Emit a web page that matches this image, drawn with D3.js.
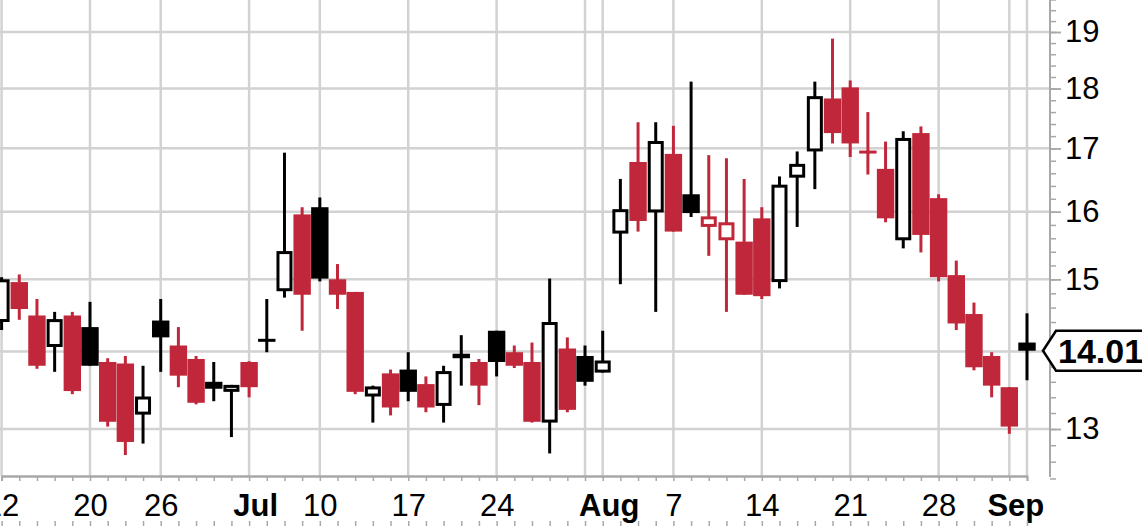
<!DOCTYPE html>
<html><head><meta charset="utf-8">
<script src="https://cdn.jsdelivr.net/npm/d3@7"></script>
<style>body{margin:0;background:#fff;overflow:hidden} svg{display:block}</style>
</head><body>
<svg id="c" width="1142" height="526"></svg>
<script>
// ---- data (daily OHLC, Jun 12 – Sep 5 2023) ----
const dates = ["2023-06-12","2023-06-13","2023-06-14","2023-06-15","2023-06-16","2023-06-20","2023-06-21","2023-06-22","2023-06-23","2023-06-26","2023-06-27","2023-06-28","2023-06-29","2023-06-30","2023-07-03","2023-07-05","2023-07-06","2023-07-07","2023-07-10","2023-07-11","2023-07-12","2023-07-13","2023-07-14","2023-07-17","2023-07-18","2023-07-19","2023-07-20","2023-07-21","2023-07-24","2023-07-25","2023-07-26","2023-07-27","2023-07-28","2023-07-31","2023-08-01","2023-08-02","2023-08-03","2023-08-04","2023-08-07","2023-08-08","2023-08-09","2023-08-10","2023-08-11","2023-08-14","2023-08-15","2023-08-16","2023-08-17","2023-08-18","2023-08-21","2023-08-22","2023-08-23","2023-08-24","2023-08-25","2023-08-28","2023-08-29","2023-08-30","2023-08-31","2023-09-01","2023-09-05"];
const open  = [14.40,14.96,14.49,14.06,14.49,14.33,13.86,13.84,13.18,14.42,14.08,13.90,13.60,13.47,13.86,14.15,14.83,15.96,16.07,15.00,14.82,13.41,13.71,13.76,13.57,13.29,13.97,13.86,14.28,13.99,13.86,13.08,14.04,13.94,13.72,15.67,16.78,15.99,16.91,16.27,15.77,15.57,15.55,15.90,14.96,16.53,16.95,17.83,18.02,16.94,16.67,15.57,17.25,16.21,15.06,14.51,13.94,13.53,14.12];
const high  = [15.03,15.07,14.72,14.54,14.54,14.68,13.91,13.94,13.81,14.72,14.33,13.94,13.86,13.56,13.87,14.72,16.93,16.07,16.22,15.22,14.82,13.55,13.76,13.99,13.67,13.81,14.22,13.90,14.28,14.08,14.12,15.01,14.19,14.08,14.28,16.51,17.43,17.43,17.37,18.12,16.89,16.84,16.51,16.07,16.55,16.95,18.12,18.88,18.14,17.60,17.11,17.28,17.36,16.27,15.27,14.67,13.99,13.53,14.52];
const low   = [14.29,14.43,13.77,13.73,13.44,13.81,13.03,12.68,12.82,13.73,13.53,13.31,13.35,12.90,13.40,13.99,14.74,14.28,14.97,14.58,13.44,13.08,13.17,13.35,13.21,13.08,13.55,13.30,13.67,13.78,13.08,12.70,13.21,13.55,13.72,14.93,15.70,14.54,15.70,15.92,15.34,14.54,14.78,14.72,14.87,15.77,16.35,17.08,16.86,16.58,15.84,15.45,15.39,14.97,14.29,13.75,13.40,12.94,13.62];
const close = [15.00,14.58,13.81,14.44,13.48,13.81,13.09,12.84,13.41,14.19,13.68,13.33,13.51,13.56,13.53,14.15,15.41,14.78,15.01,14.78,13.47,13.54,13.27,13.47,13.27,13.74,13.91,13.55,13.86,13.81,13.09,14.40,13.24,13.60,13.88,16.04,15.86,17.12,15.70,15.98,15.93,15.84,14.78,14.76,16.42,16.75,17.87,17.25,17.08,16.94,15.90,17.17,15.65,15.03,14.38,13.79,13.55,13.03,14.01];

const yTicks = [13,14,15,16,17,18,19];
const yLabelTicks = [13,15,16,17,18,19];
const gridDates = ["2023-06-12","2023-06-20","2023-06-26","2023-07-03","2023-07-10","2023-07-17","2023-07-24","2023-07-31","2023-08-01","2023-08-07","2023-08-14","2023-08-21","2023-08-28","2023-09-01","2023-09-05"];
const labelDates = ["2023-06-12","2023-06-20","2023-06-26","2023-07-03","2023-07-10","2023-07-17","2023-07-24","2023-08-01","2023-08-07","2023-08-14","2023-08-21","2023-08-28","2023-09-01"];
const labelTexts = ["12","20","26","Jul","10","17","24","Aug","7","14","21","28","Sep"];
const monthLabels = ["Jul","Aug","Sep"];
const lastLabel = "14.01";

// ---- layout ----
const svg = d3.select("#c");
const plotRight = 1050, plotBottom = 476;
const RED = "#c1273a", BLACK = "#000";
const FONT = "'Liberation Sans', Arial, sans-serif";

const x = d3.scalePoint().domain(dates).range([1.6, 1027]);
const y = d3.scaleLog().domain([13, 19]).range([429, 32]);

// grid
const grid = svg.append("g");
grid.selectAll("line.h").data(yTicks).join("line")
  .attr("x1", 0).attr("x2", plotRight)
  .attr("y1", d => y(d)).attr("y2", d => y(d))
  .attr("stroke", "#d2d2d2").attr("stroke-width", 2.5);
grid.selectAll("line.v").data(gridDates).join("line")
  .attr("x1", d => x(d)).attr("x2", d => x(d))
  .attr("y1", 0).attr("y2", plotBottom)
  .attr("stroke", "#d2d2d2").attr("stroke-width", 2.5);

// x axes
const minorX = svg.append("g").attr("transform", `translate(0,${plotBottom})`)
  .call(d3.axisBottom(x).tickValues(dates).tickSize(5).tickFormat(""));
const lblX = svg.append("g").attr("transform", `translate(0,${plotBottom})`)
  .call(d3.axisBottom(x).tickValues(labelDates).tickSize(0)
    .tickFormat((d) => labelTexts[labelDates.indexOf(d)]));
lblX.selectAll("text").attr("y", 40).attr("dy", 0)
  .attr("font-family", FONT).attr("font-size", 31).attr("fill", "#000")
  .attr("font-weight", d => monthLabels.includes(labelTexts[labelDates.indexOf(d)]) ? "bold" : "normal")
  .attr("dx", d => monthLabels.includes(labelTexts[labelDates.indexOf(d)]) ? 6 : 0);
const botX = svg.append("g").attr("transform", `translate(0,526)`)
  .call(d3.axisTop(x).tickValues(dates).tickSize(5).tickFormat(""));
[minorX, lblX, botX].forEach(g => {
  g.select(".domain").attr("stroke", "#a8a8a8").attr("stroke-width", 2);
  g.selectAll(".tick line").attr("stroke", "#a8a8a8").attr("stroke-width", 1.5);
});
botX.select(".domain").remove();

// y axes
const minorVals = d3.range(12.4, 19.7, 0.2);
const minorY = svg.append("g").attr("transform", `translate(${plotRight},0)`)
  .call(d3.axisRight(y).tickValues(minorVals).tickSize(6).tickFormat(""));
const majorY = svg.append("g").attr("transform", `translate(${plotRight},0)`)
  .call(d3.axisRight(y).tickValues(yTicks).tickSize(11).tickFormat(""));
const labelY = svg.append("g").attr("transform", `translate(${plotRight},0)`)
  .call(d3.axisRight(y).tickValues(yLabelTicks).tickSize(11).tickPadding(4).tickFormat(d3.format("d")));
labelY.selectAll("text").attr("font-family", FONT).attr("font-size", 31).attr("fill", "#000");
[minorY, majorY, labelY].forEach(g => {
  g.select(".domain").attr("d", `M0,0V${plotBottom + 1}`).attr("stroke", "#a8a8a8").attr("stroke-width", 2);
  g.selectAll(".tick line").attr("stroke", "#a8a8a8").attr("stroke-width", 1.5);
});

// candles
const data = dates.map((d, i) => ({d, o: open[i], h: high[i], l: low[i], c: close[i],
  pc: i > 0 ? close[i - 1] : open[i]}));
const cg = svg.append("g");
const candle = cg.selectAll("g.k").data(data).join("g");
candle.each(function(k) {
  const g = d3.select(this);
  const cx = x(k.d);
  const col = k.c >= k.pc ? BLACK : RED;
  g.append("line").attr("x1", cx).attr("x2", cx)
    .attr("y1", y(k.h)).attr("y2", y(k.l))
    .attr("stroke", col).attr("stroke-width", 3);
  if (k.c > k.o) {
    const top = y(k.c), bot = y(k.o);
    g.append("rect").attr("x", cx - 8 + 1.5).attr("width", 13)
      .attr("y", top + 1.5).attr("height", Math.max(1, bot - top - 3))
      .attr("fill", "#fff").attr("stroke", col).attr("stroke-width", 3);
  } else {
    const top = y(k.o), bot = y(k.c);
    const hgt = Math.max(3, bot - top);
    const y0 = bot - top < 3 ? (top + bot) / 2 - 1.5 : top;
    g.append("rect").attr("x", cx - 8.7).attr("width", 17.4)
      .attr("y", y0).attr("height", hgt).attr("fill", col);
  }
});

// last price tag
const yc = y(close[close.length - 1]);
svg.append("path")
  .attr("d", `M1043,${yc} L1056,${yc - 20} L1150,${yc - 20} L1150,${yc + 20} L1056,${yc + 20} Z`)
  .attr("fill", "#fff").attr("stroke", "#000").attr("stroke-width", 2.5);
svg.append("text").attr("x", 1058).attr("y", yc).attr("dy", "0.36em")
  .attr("font-family", FONT).attr("font-size", 34).attr("font-weight", "bold")
  .text(lastLabel);
</script>
</body></html>
